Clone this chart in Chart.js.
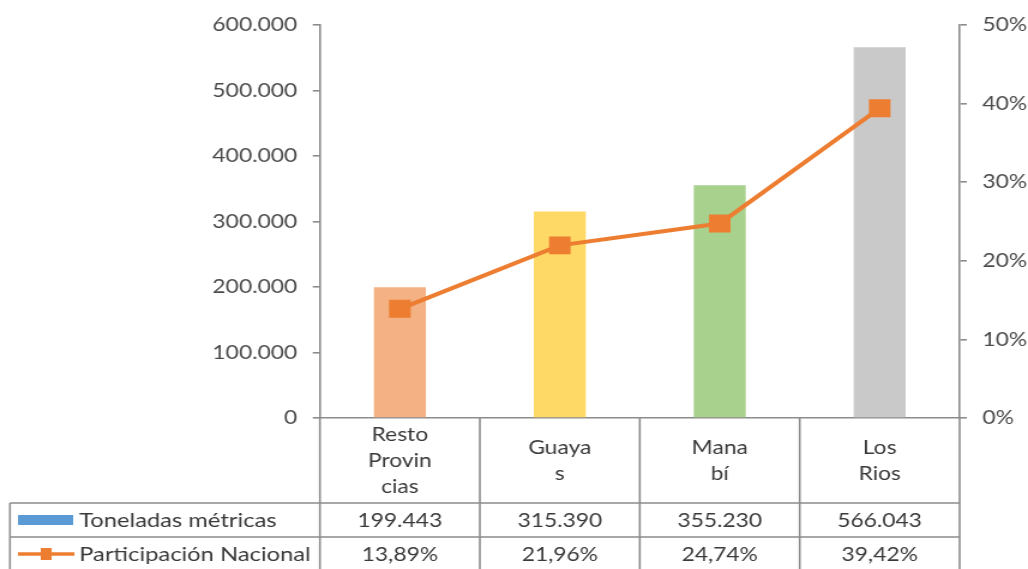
<!DOCTYPE html>
<html>
<head>
<meta charset="utf-8">
<script src="https://cdn.jsdelivr.net/npm/chart.js@4.4.1/dist/chart.umd.min.js"></script>
<style>
  html, body { margin: 0; padding: 0; background: #fff; overflow: hidden; }
  /* the original picture is stretched sideways, so the chart is drawn narrow and widened */
  #wrap { width: 857px; height: 569px; transform: scaleX(1.19953); transform-origin: 0 0; }
</style>
</head>
<body>
<div id="wrap"><canvas id="provinciasChart"></canvas></div>
<script>
// categories, split the same way as in the source table
const categories = [['Resto', 'Provin', 'cias'], ['Guaya', 's'], ['Mana', 'bí'], ['Los', 'Rios']];
const toneladas = [199443, 315390, 355230, 566043];
const participacion = [13.89, 21.96, 24.74, 39.42];
const barColors = ['#f4b183', '#ffd966', '#a9d18e', '#c9c9c9'];
const seriesNames = ['Toneladas métricas', 'Participación Nacional'];
const leftTicks = [0, 100000, 200000, 300000, 400000, 500000, 600000];
const rightTicks = [0, 10, 20, 30, 40, 50];

const FONT = 'Lato, "Open Sans", sans-serif';
const axisGray = '#8c8c8c';
const textGray = '#3a3a3a';

const fmtTon = v => v.toLocaleString('de-DE');
const fmtPct = v => v.toFixed(2).replace('.', ',') + '%';

// draws the data table under the plot (category row + two series rows)
const dataTable = {
  id: 'dataTable',
  afterDraw(chart) {
    const { ctx, chartArea } = chart;
    const x = chart.scales.x;
    const n = categories.length;
    const catW = (chartArea.right - chartArea.left) / n;
    const top = chartArea.bottom;
    const catBottom = top + 85;
    const row1 = catBottom + 34;
    const row2 = row1 + 34;
    const tableLeft = 8.3;

    ctx.save();
    ctx.strokeStyle = axisGray;
    ctx.lineWidth = 1.6;
    ctx.beginPath();
    for (let i = 0; i <= n; i++) {
      const px = chartArea.left + i * catW;
      ctx.moveTo(px, top);
      ctx.lineTo(px, row2 + 2);
    }
    ctx.moveTo(tableLeft, catBottom);
    ctx.lineTo(tableLeft, row2 + 2);
    ctx.moveTo(tableLeft, catBottom);
    ctx.lineTo(chartArea.right, catBottom);
    ctx.moveTo(tableLeft, row1);
    ctx.lineTo(chartArea.right, row1);
    ctx.moveTo(tableLeft, row2);
    ctx.lineTo(chartArea.right, row2);
    ctx.stroke();

    ctx.fillStyle = textGray;
    ctx.font = '19px ' + FONT;
    ctx.textAlign = 'center';
    ctx.textBaseline = 'middle';
    const lh = 26;
    const midCat = (top + catBottom) / 2;
    categories.forEach((lines, i) => {
      const cx = x.getPixelForValue(i);
      const y0 = midCat - (lines.length - 1) * lh / 2;
      lines.forEach((t, k) => ctx.fillText(t, cx, y0 + k * lh));
      ctx.fillText(fmtTon(toneladas[i]), cx, (catBottom + row1) / 2 + 1);
      ctx.fillText(fmtPct(participacion[i]), cx, (row1 + row2) / 2 + 1);
    });

    // legend keys
    const y1 = (catBottom + row1) / 2;
    const y2 = (row1 + row2) / 2;
    ctx.fillStyle = '#5b9bd5';
    ctx.fillRect(15, y1 - 5, 46, 10);
    ctx.strokeStyle = '#ed7d31';
    ctx.lineWidth = 3.5;
    ctx.beginPath();
    ctx.moveTo(15, y2);
    ctx.lineTo(62, y2);
    ctx.stroke();
    ctx.fillStyle = '#ed7d31';
    ctx.fillRect(34, y2 - 6, 9, 12);

    ctx.fillStyle = textGray;
    ctx.textAlign = 'left';
    ctx.font = '19.8px ' + FONT;
    ctx.fillText(seriesNames[0], 66, y1 + 1);
    ctx.fillText(seriesNames[1], 66, y2 + 1);
    ctx.restore();
  }
};

new Chart(document.getElementById('provinciasChart'), {
  type: 'bar',
  data: {
    labels: categories.map(c => c.join('')),
    datasets: [
      {
        type: 'line',
        label: seriesNames[1],
        data: participacion,
        yAxisID: 'y1',
        borderColor: '#ed7d31',
        backgroundColor: '#ed7d31',
        borderWidth: 4,
        pointStyle: 'rect',
        pointRadius: 12.7,
        pointBorderWidth: 0,
        tension: 0,
        order: 0
      },
      {
        label: seriesNames[0],
        data: toneladas,
        yAxisID: 'y',
        backgroundColor: barColors,
        barPercentage: 0.325,
        categoryPercentage: 1,
        order: 1
      }
    ]
  },
  options: {
    responsive: true,
    maintainAspectRatio: false,
    animation: false,
    layout: { padding: { top: 25, bottom: 151, left: 0, right: 0 } },
    plugins: { legend: { display: false }, tooltip: { enabled: false } },
    scales: {
      x: {
        ticks: { display: false },
        grid: { display: false },
        border: { display: true, color: axisGray, width: 1.6 },
        afterFit: s => { s.height = 0; }
      },
      y: {
        position: 'left',
        min: 0, max: 600000,
        afterBuildTicks: s => { s.ticks = leftTicks.map(v => ({ value: v })); },
        ticks: { callback: v => fmtTon(v), color: '#4a4a4a', font: { family: FONT, size: 19 }, padding: 13 },
        grid: { drawOnChartArea: false, tickLength: 6, color: axisGray, lineWidth: 1.6 },
        border: { display: true, color: axisGray, width: 1.6 },
        afterFit: s => { s.width = 266.7; }
      },
      y1: {
        position: 'right',
        min: 0, max: 50,
        afterBuildTicks: s => { s.ticks = rightTicks.map(v => ({ value: v })); },
        ticks: { callback: v => v + '%', color: '#4a4a4a', font: { family: FONT, size: 19 }, padding: 13 },
        grid: { drawOnChartArea: false, tickLength: 6, color: axisGray, lineWidth: 1.6 },
        border: { display: true, color: axisGray, width: 1.6 },
        afterFit: s => { s.width = 57; }
      }
    }
  },
  plugins: [dataTable]
});
</script>
</body>
</html>
